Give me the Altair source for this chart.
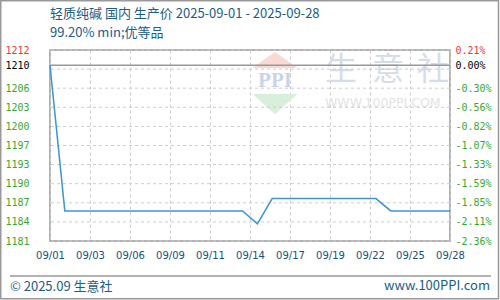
import altair as alt
import pandas as pd

# ---- data ----
dates = [
    "2025-09-01", "2025-09-02", "2025-09-03", "2025-09-04", "2025-09-05", "2025-09-06", "2025-09-07",
    "2025-09-08", "2025-09-09", "2025-09-10", "2025-09-11", "2025-09-12", "2025-09-13", "2025-09-14",
    "2025-09-15", "2025-09-16", "2025-09-17", "2025-09-18", "2025-09-19", "2025-09-20", "2025-09-21",
    "2025-09-22", "2025-09-23", "2025-09-24", "2025-09-25", "2025-09-26", "2025-09-27", "2025-09-28",
]
prices = [
    1210.0, 1186.3, 1186.3, 1186.3, 1186.3, 1186.3, 1186.3,
    1186.3, 1186.3, 1186.3, 1186.3, 1186.3, 1186.3, 1186.3,
    1184.2, 1188.3, 1188.3, 1188.3, 1188.3, 1188.3, 1188.3,
    1188.3, 1188.3, 1186.3, 1186.3, 1186.3, 1186.3, 1186.3,
]
base_price = 1210.0
y_domain = [1181.4, 1212.5]
grid_values = [1212.5, 1209.39, 1206.28, 1203.17, 1200.06, 1196.95, 1193.84, 1190.73, 1187.62, 1184.51, 1181.4]
y_tick_values = [1212.5, 1210.0, 1206.28, 1203.17, 1200.06, 1196.95, 1193.84, 1190.73, 1187.62, 1184.51, 1181.4]
left_labels = ["1212", "1210", "1206", "1203", "1200", "1197", "1193", "1190", "1187", "1184", "1181"]
right_labels = ["0.21%", "0.00%", "-0.30%", "-0.56%", "-0.82%", "-1.07%", "-1.33%", "-1.59%", "-1.85%", "-2.11%", "-2.36%"]
x_tick_values = [0, 2.7, 5.4, 8.1, 10.8, 13.5, 16.2, 18.9, 21.6, 24.3, 27]
x_labels = ["09/01", "09/03", "09/06", "09/09", "09/11", "09/14", "09/17", "09/19", "09/22", "09/25", "09/28"]

title1 = "轻质纯碱 国内 生产价 2025-09-01 - 2025-09-28"
title2 = "99.20% min;优等品"
footer_left = "© 2025.09 生意社"
footer_right = "www.100PPI.com"

# ---- styling ----
BLUE_TXT = "#1a5c8c"
LINE = "#3b96d6"
RED = "#ff3333"
GREEN = "#33aa33"
GRAY = "#999999"
CJK = "Noto Sans CJK SC"

d = pd.to_datetime(pd.Series(dates))
df = pd.DataFrame({"day": (d - d.iloc[0]).dt.days, "price": prices})
grid_df = pd.DataFrame({"v": grid_values})
base_df = pd.DataFrame({"v": [base_price]})


def lookup_expr(vals, labels):
    return "[" + ",".join("'%s'" % l for l in labels) + "][indexof([" + ",".join(repr(v) for v in vals) + "], datum.value)]"


label_color = {
    "condition": [
        {"test": "datum.value == %r" % y_tick_values[0], "value": RED},
        {"test": "datum.value == %r" % base_price, "value": "#000000"},
    ],
    "value": GREEN,
}

yscale = alt.Scale(domain=y_domain, nice=False, zero=False)
left_axis = alt.Axis(
    values=y_tick_values, labelExpr=lookup_expr(y_tick_values, left_labels), title=None,
    grid=False, ticks=False, domain=False, labelPadding=21, labelFont="DejaVu Sans Mono",
    labelFontSize=10, labelColor=label_color, labelOverlap=False, labelFlush=False, labelBound=False,
    orient="left",
)
right_axis = alt.Axis(
    values=y_tick_values, labelExpr=lookup_expr(y_tick_values, right_labels), title=None,
    grid=False, ticks=False, domain=False, labelPadding=5, labelFont="DejaVu Sans Mono",
    labelFontSize=10, labelColor=label_color, labelOverlap=False, labelFlush=False, labelBound=False,
    orient="right",
)
xscale = alt.Scale(domain=[0, 27], nice=False, zero=False)
x_axis = alt.Axis(
    values=x_tick_values, labelExpr=lookup_expr(x_tick_values, x_labels), title=None,
    grid=True, gridDash=[3, 3], gridColor="#cccccc", gridWidth=1, ticks=False, domain=False,
    labelPadding=9, labelFont="DejaVu Sans", labelFontSize=10, labelColor="#1a4e7c",
    labelOverlap=False, labelFlush=False, labelBound=False,
)


def txt(text, x, y, size, color, align="left", font=CJK, weight="normal"):
    return alt.Chart(pd.DataFrame({"t": [text]})).mark_text(
        align=align, baseline="middle", fontSize=size, font=font, color=color, fontWeight=weight
    ).encode(x=alt.value(x), y=alt.value(y), text="t:N")


def sym(shape, x, y, size, color):
    return alt.Chart(pd.DataFrame({"t": [0]})).mark_point(
        shape=shape, filled=True, size=size, color=color, opacity=1, strokeWidth=0
    ).encode(x=alt.value(x), y=alt.value(y))


# watermark
watermark = [
    sym("M-1,0.36L0,-0.36L1,0.36Z", 225, 10, 2025, "#f8d9d3"),
    txt("PPI", 225, 31, 21, "#c9d4ea", align="center", font="Liberation Serif", weight="bold"),
    sym("M-1,-0.45L0,0.45L1,-0.45Z", 225, 54, 2025, "#d8efdc"),
    txt("生", 291, 20, 32, "#d6dce9", align="center"),
    txt("意", 338, 20, 32, "#d6dce9", align="center"),
    txt("社", 383, 20, 32, "#d6dce9", align="center"),
    txt("WWW.100PPI.COM", 275, 53, 12.5, "#e3e3e3", font="DejaVu Sans"),
]

hgrid = alt.Chart(grid_df).mark_rule(strokeDash=[3, 3], color="#cccccc", strokeWidth=1).encode(
    y=alt.Y("v:Q", scale=yscale, axis=left_axis)
)
baseline = alt.Chart(base_df).mark_rule(color=GRAY, strokeWidth=1.5).encode(
    y=alt.Y("v:Q", scale=yscale, axis=left_axis)
)
line = alt.Chart(df).mark_line(color=LINE, strokeWidth=1.5).encode(
    x=alt.X("day:Q", scale=xscale, axis=x_axis),
    y=alt.Y("price:Q", scale=yscale, axis=left_axis),
)
left_group = alt.layer(*watermark, hgrid, baseline, line)

right_line = alt.Chart(df).mark_line(opacity=0).encode(
    x=alt.X("day:Q", scale=xscale, axis=x_axis),
    y=alt.Y("price:Q", scale=yscale, axis=right_axis),
)

annotations = [
    txt(title1, 0, -36, 13, BLUE_TXT),
    txt(title2, 0, -17, 13, BLUE_TXT),
    txt(footer_left, -40, 237, 13, BLUE_TXT),
    txt(footer_right, 440, 236, 13, BLUE_TXT, align="right"),
    alt.Chart(pd.DataFrame({"t": [0]})).mark_rule(color=GRAY, strokeWidth=1.5).encode(
        x=alt.value(-40), x2=alt.value(441), y=alt.value(226)
    ),
    alt.Chart(pd.DataFrame({"t": [0]})).mark_rect(fillOpacity=0, stroke=GRAY, strokeWidth=1.5).encode(
        x=alt.value(-49.25), x2=alt.value(448.5), y=alt.value(-49.25), y2=alt.value(248.75)
    ),
]

chart = (
    alt.layer(left_group, right_line, *annotations)
    .resolve_scale(y="independent")
    .properties(
        width=400, height=191,
        padding={"left": 50, "top": 50, "right": 50, "bottom": 59},
        autosize=alt.AutoSizeParams(type="none"),
        background="white",
    )
    .configure_view(stroke=GRAY, strokeWidth=1.5)
)

chart.save("out.html", embed_options={"renderer": "svg", "actions": False})
